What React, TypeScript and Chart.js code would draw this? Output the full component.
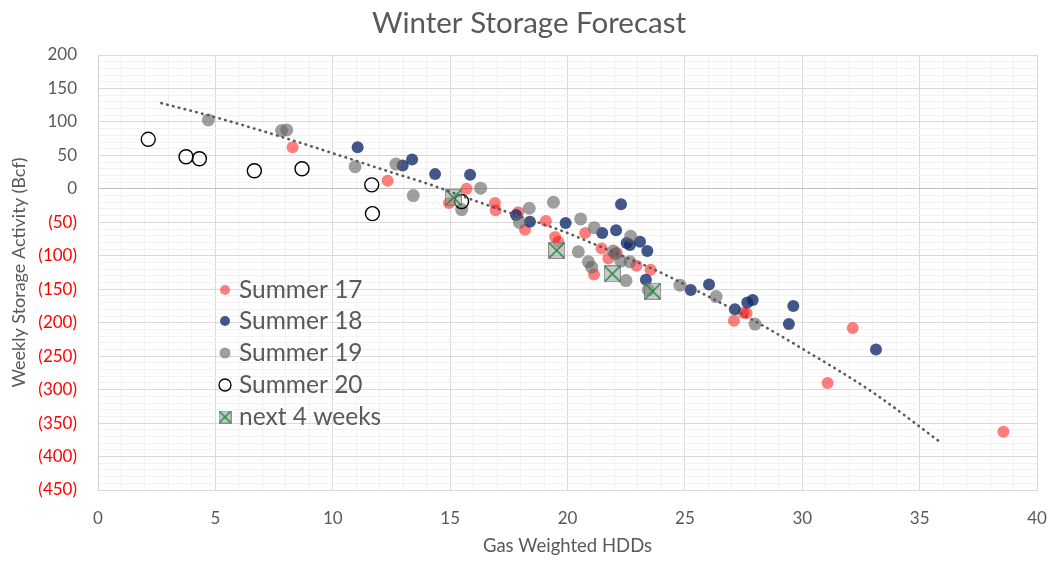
import React, { useEffect, useRef } from "react";
import { Chart, registerables } from "chart.js";

Chart.register(...registerables);

const FONT_FAMILY = "Lato, 'Open Sans', sans-serif";
const TEXT = "#595959";

const chartTitle = "Winter Storage Forecast";
const xTitle = "Gas Weighted HDDs";
const yTitle = "Weekly Storage Activity (Bcf)";
const seriesNames = ["Summer 17", "Summer 18", "Summer 19", "Summer 20", "next 4 weeks"];

// [HDD, Bcf]
const summer17: number[][] = [
  [8.29, 62], [12.34, 12], [15.7, 0], [14.95, -21], [16.91, -21], [16.94, -32],
  [17.9, -35], [18.19, -61], [19.08, -48], [19.47, -72], [19.61, -79], [20.75, -66],
  [21.45, -89], [21.74, -104], [22.1, -96], [21.13, -128], [22.94, -115], [23.54, -121],
  [27.09, -197], [27.49, -185], [27.63, -186], [32.15, -208], [31.08, -290], [38.57, -363],
];
const summer18: number[][] = [
  [11.06, 62], [12.98, 35], [13.38, 44], [14.36, 22], [15.85, 21], [17.81, -39],
  [18.4, -49], [19.92, -51], [22.28, -23], [21.48, -66], [22.07, -62], [22.52, -81],
  [22.66, -84], [23.09, -79], [23.4, -93], [23.34, -136], [25.25, -151], [26.03, -143],
  [27.13, -180], [27.66, -170], [27.89, -166], [29.43, -202], [29.62, -175], [33.14, -240],
];
const summer19: number[][] = [
  [4.7, 103], [7.82, 87], [8.04, 88], [10.95, 33], [12.69, 37], [13.43, -10],
  [16.3, 1], [15.49, -31], [17.95, -50], [18.37, -29], [19.4, -20], [20.56, -45],
  [21.14, -58], [20.46, -94], [20.89, -109], [21.03, -117], [21.95, -93], [22.02, -97],
  [22.27, -108], [22.66, -109], [22.69, -71], [22.49, -137], [23.44, -151], [24.79, -144],
  [26.33, -161], [27.99, -202],
];
const summer20: number[][] = [
  [2.14, 74], [3.75, 48], [4.32, 45], [6.66, 27], [8.69, 30], [11.66, 6], [11.69, -37], [15.49, -19],
];
const next4Weeks: number[][] = [
  [15.14, -13], [19.54, -92], [21.91, -127], [23.63, -153],
];
// dotted trendline
const trendX = [2.7, 5.1, 7.6, 10.2, 12.2, 14.1, 16.0, 17.3, 19.7, 21.1, 23.9, 25.5, 28.0, 30.2, 33.0, 35.9];
const trendY = [128, 106, 80, 51, 28, 7, -17, -33, -62, -82, -124, -152, -198, -243, -304, -379];

const xMin = 0, xMax = 40, xMajor = 5, xMinor = 1;
const yMin = -450, yMax = 200, yMajor = 50, yMinor = 10;

const RED = "rgba(255,0,0,0.5)";
const BLUE = "rgba(20,45,110,0.8)";
const GRAY = "rgba(100,100,100,0.62)";

function fmtY(v: number): string {
  return v < 0 ? `(${-v})` : String(v);
}

function makeCrossBox(size: number): HTMLCanvasElement {
  const c = document.createElement("canvas");
  c.width = size;
  c.height = size;
  const g = c.getContext("2d")!;
  g.fillStyle = "rgba(150,150,150,0.5)";
  g.fillRect(0.5, 0.5, size - 1, size - 1);
  g.strokeStyle = "rgba(110,110,110,0.7)";
  g.lineWidth = 1;
  g.strokeRect(0.5, 0.5, size - 1, size - 1);
  g.strokeStyle = "#1E8B3E";
  g.lineWidth = 1.5;
  g.beginPath();
  g.moveTo(1, 1);
  g.lineTo(size - 1, size - 1);
  g.moveTo(size - 1, 1);
  g.lineTo(1, size - 1);
  g.stroke();
  return c;
}

const toXY = (arr: number[][]) => arr.map(([x, y]) => ({ x, y }));

export default function App() {
  const ref = useRef<HTMLCanvasElement | null>(null);

  useEffect(() => {
    if (!ref.current) return;
    const crossBig = makeCrossBox(17);
    const crossSmall = makeCrossBox(13);

    const titlePlugin = {
      id: "customTitle",
      afterDraw(chart: any) {
        const ctx = chart.ctx;
        ctx.save();
        ctx.fillStyle = TEXT;
        ctx.font = `29.5px ${FONT_FAMILY}`;
        ctx.textAlign = "center";
        ctx.textBaseline = "middle";
        ctx.fillText(chartTitle, 529, 23);
        ctx.restore();
      },
    };

    const legendPlugin = {
      id: "customLegend",
      afterDraw(chart: any) {
        const ctx = chart.ctx;
        const rows = [290, 321, 353, 385, 417];
        const mx = 225;
        const tx = 239;
        ctx.save();
        rows.forEach((ry, i) => {
          ctx.beginPath();
          if (i === 0) {
            ctx.fillStyle = RED;
            ctx.arc(mx, ry, 5, 0, Math.PI * 2);
            ctx.fill();
          } else if (i === 1) {
            ctx.fillStyle = BLUE;
            ctx.arc(mx, ry, 5, 0, Math.PI * 2);
            ctx.fill();
          } else if (i === 2) {
            ctx.fillStyle = GRAY;
            ctx.arc(mx, ry, 5.5, 0, Math.PI * 2);
            ctx.fill();
          } else if (i === 3) {
            ctx.strokeStyle = "#000";
            ctx.lineWidth = 1.3;
            ctx.arc(mx, ry, 6, 0, Math.PI * 2);
            ctx.stroke();
          } else {
            ctx.drawImage(crossSmall, mx - 6.5, ry - 6.5);
          }
          ctx.fillStyle = TEXT;
          ctx.font = `24.5px ${FONT_FAMILY}`;
          ctx.textAlign = "left";
          ctx.textBaseline = "middle";
          ctx.fillText(seriesNames[i], tx, ry);
        });
        ctx.restore();
      },
    };

    const chart = new Chart(ref.current, {
      type: "scatter",
      data: {
        datasets: [
          {
            label: seriesNames[0],
            data: toXY(summer17),
            backgroundColor: RED,
            borderColor: RED,
            pointRadius: 6,
            pointBorderWidth: 0,
            order: 5,
          },
          {
            label: seriesNames[1],
            data: toXY(summer18),
            backgroundColor: BLUE,
            borderColor: BLUE,
            pointRadius: 6,
            pointBorderWidth: 0,
            order: 4,
          },
          {
            label: seriesNames[2],
            data: toXY(summer19),
            backgroundColor: GRAY,
            borderColor: GRAY,
            pointRadius: 6.5,
            pointBorderWidth: 0,
            order: 3,
          },
          {
            label: seriesNames[3],
            data: toXY(summer20),
            backgroundColor: "rgba(0,0,0,0)",
            borderColor: "#000",
            pointRadius: 7,
            pointBorderWidth: 1.4,
            order: 2,
          },
          {
            label: seriesNames[4],
            data: toXY(next4Weeks),
            pointStyle: crossBig as any,
            pointRadius: 9,
            order: 1,
          },
          {
            label: "Trend",
            data: trendX.map((x, i) => ({ x, y: trendY[i] })),
            showLine: true,
            pointRadius: 0,
            borderColor: TEXT,
            borderWidth: 2.6,
            borderDash: [0.5, 5.5],
            borderCapStyle: "round",
            cubicInterpolationMode: "monotone",
            order: 0,
          } as any,
        ],
      },
      options: {
        responsive: false,
        animation: false,
        devicePixelRatio: 1,
        layout: { padding: { top: 55, right: 22, bottom: 0, left: 0 } },
        plugins: {
          legend: { display: false },
          title: { display: false },
          tooltip: { enabled: false },
        },
        scales: {
          x: {
            type: "linear",
            min: xMin,
            max: xMax,
            ticks: {
              stepSize: xMinor,
              maxTicksLimit: 1000,
              autoSkip: false,
              maxRotation: 0,
              padding: 18,
              color: TEXT,
              font: { family: FONT_FAMILY, size: 17 },
              callback: (v: any) => (Number(v) % xMajor === 0 ? String(v) : ""),
            },
            grid: {
              drawTicks: false,
              color: (c: any) => (c.tick && c.tick.value % xMajor === 0 ? "#D9D9D9" : "#F2F2F2"),
            },
            border: { color: "#D9D9D9" },
            title: {
              display: true,
              text: xTitle,
              color: TEXT,
              font: { family: FONT_FAMILY, size: 18.5 },
              padding: { top: 0, bottom: 10 },
            },
            afterFit: (s: any) => {
              s.height = 77;
              s.paddingLeft = 0;
              s.paddingRight = 0;
            },
          },
          y: {
            type: "linear",
            min: yMin,
            max: yMax,
            ticks: {
              stepSize: yMinor,
              maxTicksLimit: 1000,
              autoSkip: false,
              padding: 21,
              color: (c: any) => (c.tick && c.tick.value < 0 ? "#FF0000" : TEXT),
              font: { family: FONT_FAMILY, size: 17 },
              callback: (v: any) => (Number(v) % yMajor === 0 ? fmtY(Number(v)) : ""),
            },
            grid: {
              drawTicks: false,
              color: (c: any) => {
                const v = c.tick ? c.tick.value : 1;
                if (v === 0) return "#BFBFBF";
                return v % yMajor === 0 ? "#D9D9D9" : "#F2F2F2";
              },
            },
            border: { color: "#D0D0D0" },
            title: {
              display: true,
              text: yTitle,
              color: TEXT,
              font: { family: FONT_FAMILY, size: 18 },
              padding: { top: 8, bottom: 0 },
            },
            afterFit: (s: any) => {
              s.width = 98;
            },
          },
        },
      },
      plugins: [titlePlugin, legendPlugin],
    });

    return () => chart.destroy();
  }, []);

  return (
    <div style={{ position: "absolute", left: 0, top: 0, width: 1059, height: 567, background: "#fff" }}>
      <canvas ref={ref} width={1059} height={567} style={{ display: "block" }} />
    </div>
  );
}
